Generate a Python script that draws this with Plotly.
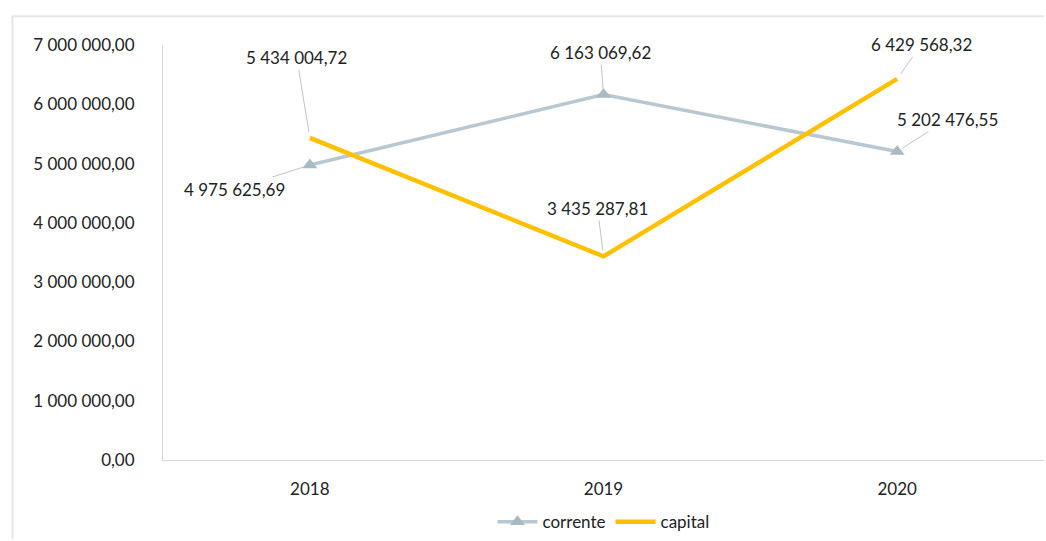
import plotly.graph_objects as go

years = ["2018", "2019", "2020"]
corrente = [4975625.69, 6163069.62, 5202476.55]
capital = [5434004.72, 3435287.81, 6429568.32]
y_ticks = [0, 1000000, 2000000, 3000000, 4000000, 5000000, 6000000, 7000000]


def fmt(v):
    whole, dec = f"{v:,.2f}".split(".")
    return whole.replace(",", " ") + "," + dec


FONT = "Lato, 'Open Sans', sans-serif"
GRAY = "#b9c7d0"
GOLD = "#ffc000"

fig = go.Figure()
fig.add_trace(go.Scatter(
    x=years, y=corrente, name="corrente", mode="lines+markers",
    line=dict(color=GRAY, width=3.5),
    marker=dict(symbol="triangle-up", size=13, color="#a9bac4"),
))
fig.add_trace(go.Scatter(
    x=years, y=capital, name="capital", mode="lines",
    line=dict(color=GOLD, width=4.5),
))

# value labels with leader lines (offsets in px from the point)
label_offsets = {
    ("corrente", 0): (-75, 24),
    ("corrente", 1): (-3, -42),
    ("corrente", 2): (50, -32),
    ("capital", 0): (-13, -80),
    ("capital", 1): (-6, -48),
    ("capital", 2): (24, -34),
}
for name, vals in (("corrente", corrente), ("capital", capital)):
    for i, v in enumerate(vals):
        ax, ay = label_offsets[(name, i)]
        fig.add_annotation(
            x=i, y=v, xref="x", yref="y", text=fmt(v), showarrow=True,
            arrowhead=0, arrowwidth=1, arrowcolor="#c4c4c4", ax=ax, ay=ay,
            font=dict(family=FONT, size=17, color="#222222"), standoff=6,
        )

fig.update_layout(
    width=1046, height=541,
    paper_bgcolor="white", plot_bgcolor="white",
    margin=dict(l=163, r=2, t=45, b=81, autoexpand=False),
    font=dict(family=FONT, size=17, color="#222222"),
    showlegend=True,
    legend=dict(orientation="h", x=0.5, xanchor="center", y=-0.15, yanchor="middle",
                font=dict(family=FONT, size=17, color="#222222"),
                itemwidth=40, traceorder="normal"),
    xaxis=dict(type="category", showgrid=False, showline=True, linecolor="#d9d9d9",
               linewidth=1, ticks="", tickfont=dict(family=FONT, size=17),
               range=[-0.5, 2.5], ticklabelstandoff=14),
    yaxis=dict(range=[0, 7000000], tickvals=y_ticks,
               ticktext=[fmt(v) for v in y_ticks], showgrid=False,
               showline=True, linecolor="#d9d9d9", linewidth=1, ticks="",
               zeroline=False, tickfont=dict(family=FONT, size=17),
               ticklabelstandoff=24),
    shapes=[
        dict(type="line", xref="paper", yref="paper", x0=-0.171, x1=1.0, y0=1.069, y1=1.069,
             line=dict(color="#e6e6e6", width=2)),
        dict(type="line", xref="paper", yref="paper", x0=-0.171, x1=-0.171, y0=1.069, y1=-0.19,
             line=dict(color="#e6e6e6", width=2)),
    ],
)

fig.write_html("out.html")
